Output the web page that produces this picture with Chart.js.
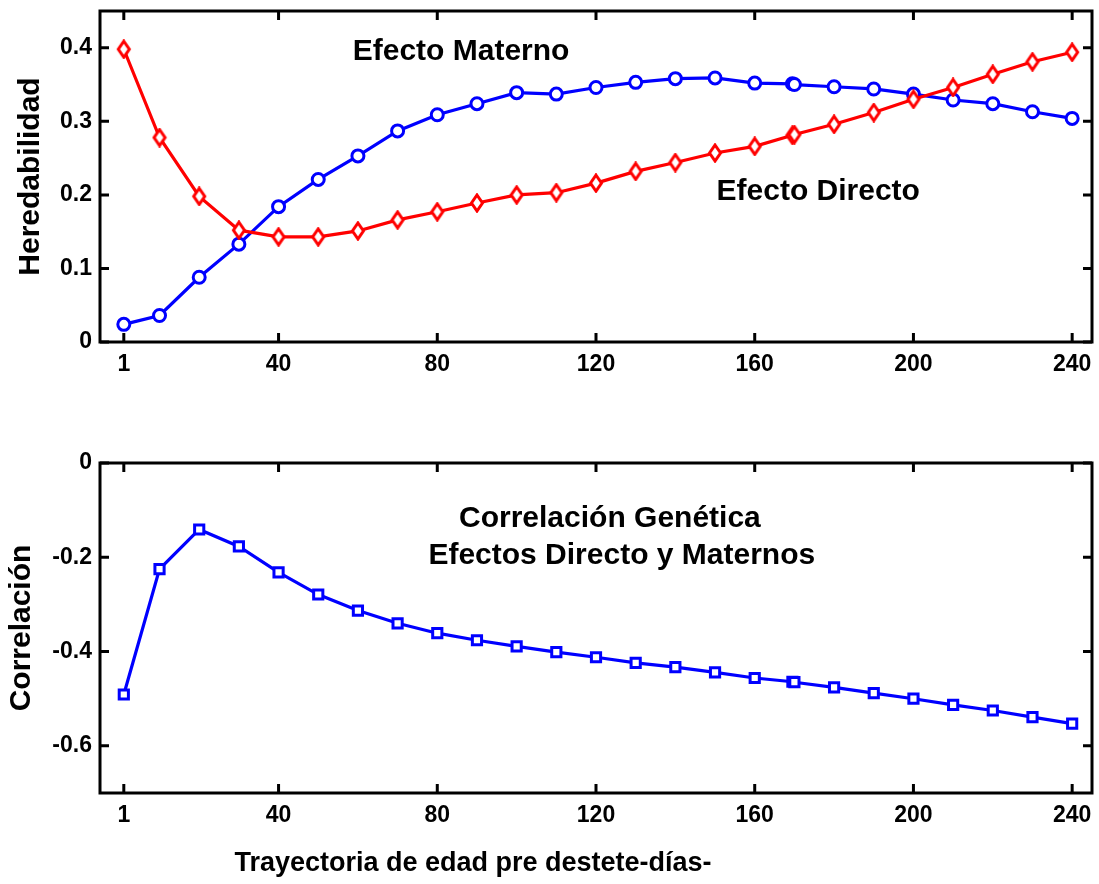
<!DOCTYPE html>
<html lang="es">
<head>
    <meta charset="UTF-8">
    <title>Heredabilidad y Correlación Genética</title>
    <script src="https://cdn.jsdelivr.net/npm/chart.js"></script>
    <style>
        * { margin: 0; padding: 0; box-sizing: border-box; }
        body { background: #fff; width: 1099px; height: 884px; position: relative; overflow: hidden; }
        #topChart { position: absolute; left: 0; top: 0; }
        #bottomChart { position: absolute; left: 0; top: 410px; }
    </style>
</head>
<body>
    <canvas id="topChart" width="1099" height="410"></canvas>
    <canvas id="bottomChart" width="1099" height="474"></canvas>

    <script>
        // edades (días)
        const ages = [1, 10, 20, 30, 40, 50, 60, 70, 80, 90, 100, 110, 120, 130, 140, 150, 160, 169.5, 170, 180, 190, 200, 210, 220, 230, 240];
        const efectoDirecto = [0.398, 0.278, 0.198, 0.152, 0.143, 0.143, 0.151, 0.166, 0.177, 0.189, 0.200, 0.203, 0.216, 0.232, 0.244, 0.257, 0.266, 0.281, 0.282, 0.296, 0.312, 0.330, 0.346, 0.364, 0.381, 0.394];
        const efectoMaterno = [0.024, 0.036, 0.088, 0.133, 0.184, 0.221, 0.253, 0.287, 0.309, 0.324, 0.339, 0.337, 0.346, 0.353, 0.358, 0.359, 0.352, 0.351, 0.350, 0.347, 0.344, 0.337, 0.329, 0.324, 0.313, 0.304];
        const correlacion = [-0.491, -0.225, -0.141, -0.177, -0.232, -0.279, -0.313, -0.340, -0.361, -0.376, -0.389, -0.401, -0.412, -0.424, -0.433, -0.444, -0.456, -0.464, -0.465, -0.476, -0.488, -0.500, -0.513, -0.525, -0.539, -0.553];

        const xTicks = [1, 40, 80, 120, 160, 200, 240];
        const yTicksTop = [0, 0.1, 0.2, 0.3, 0.4];
        const yTicksBottom = [0, -0.2, -0.4, -0.6];

        // text labels placed in data coordinates
        const topNotes = [
            { text: 'Efecto Materno', x: 86, y: 0.395 },
            { text: 'Efecto Directo', x: 176, y: 0.204 }
        ];
        const bottomNotes = [
            { text: 'Correlación Genética', x: 123.5, y: -0.118 },
            { text: 'Efectos Directo y Maternos', x: 126.5, y: -0.197 }
        ];

        const FONT = "'Liberation Sans', Arial, sans-serif";

        const toPoints = (ys) => ages.map((a, i) => ({ x: a, y: ys[i] }));

        // narrow diamond marker like matlab's 'd'
        function diamond(color) {
            const c = document.createElement('canvas');
            c.width = 16; c.height = 20;
            const g = c.getContext('2d');
            g.beginPath();
            g.moveTo(8, 2); g.lineTo(13.5, 10); g.lineTo(8, 18); g.lineTo(2.5, 10);
            g.closePath();
            g.fillStyle = '#fff';
            g.fill();
            g.lineWidth = 3;
            g.strokeStyle = color;
            g.stroke();
            return c;
        }

        // box frame + inward ticks on all four sides
        const framePlugin = {
            id: 'frame',
            beforeDatasetsDraw(chart) {
                const { ctx, chartArea: a, scales } = chart;
                const len = 9;
                ctx.save();
                ctx.strokeStyle = '#000';
                ctx.lineWidth = 3;
                ctx.beginPath();
                scales.x.ticks.forEach(t => {
                    const px = scales.x.getPixelForValue(t.value);
                    ctx.moveTo(px, a.bottom); ctx.lineTo(px, a.bottom - len);
                    ctx.moveTo(px, a.top); ctx.lineTo(px, a.top + len);
                });
                scales.y.ticks.forEach(t => {
                    const py = scales.y.getPixelForValue(t.value);
                    ctx.moveTo(a.left, py); ctx.lineTo(a.left + len, py);
                    ctx.moveTo(a.right, py); ctx.lineTo(a.right - len, py);
                });
                ctx.stroke();
                ctx.strokeRect(a.left, a.top, a.right - a.left, a.bottom - a.top);
                ctx.restore();
            },
            afterDraw(chart, args, opts) {
                const { ctx, scales } = chart;
                ctx.save();
                ctx.fillStyle = '#000';
                ctx.font = 'bold 30px ' + FONT;
                ctx.textAlign = 'center';
                ctx.textBaseline = 'middle';
                (opts.notes || []).forEach(n => {
                    ctx.fillText(n.text, scales.x.getPixelForValue(n.x), scales.y.getPixelForValue(n.y));
                });
                if (opts.xTitle) {
                    ctx.font = 'bold 27px ' + FONT;
                    ctx.fillText(opts.xTitle, 473, opts.xTitleY);
                }
                ctx.restore();
            }
        };

        function xScale(height) {
            return {
                type: 'linear',
                min: -5,
                max: 245,
                afterBuildTicks: (s) => { s.ticks = xTicks.map(v => ({ value: v })); },
                afterFit: (s) => { s.height = height; s.paddingLeft = 0; s.paddingRight = 0; },
                grid: { display: false, drawTicks: false, tickLength: 0 },
                border: { display: false },
                ticks: {
                    color: '#000',
                    padding: 9,
                    maxRotation: 0,
                    autoSkip: false,
                    font: { family: FONT, size: 23, weight: 'bold' }
                }
            };
        }

        function yScale(min, max, tickVals, title, titlePad) {
            return {
                type: 'linear',
                min: min,
                max: max,
                afterBuildTicks: (s) => { s.ticks = tickVals.map(v => ({ value: v })); },
                afterFit: (s) => { s.width = 100; s.paddingTop = 0; s.paddingBottom = 0; },
                grid: { display: false, drawTicks: false, tickLength: 0 },
                border: { display: false },
                ticks: {
                    color: '#000',
                    padding: 8,
                    font: { family: FONT, size: 23, weight: 'bold' },
                    callback: (v) => v === 0 ? '0' : v.toFixed(1)
                },
                title: {
                    display: true,
                    text: title,
                    color: '#000',
                    padding: { top: titlePad, bottom: 0 },
                    font: { family: FONT, size: 30, weight: 'bold' }
                }
            };
        }

        const topCtx = document.getElementById('topChart').getContext('2d');
        new Chart(topCtx, {
            type: 'scatter',
            data: {
                datasets: [{
                    label: 'Efecto Directo',
                    data: toPoints(efectoDirecto),
                    showLine: true,
                    borderColor: '#ff0000',
                    borderWidth: 3.2,
                    pointStyle: diamond('#ff0000'),
                    pointRadius: 8
                }, {
                    label: 'Efecto Materno',
                    data: toPoints(efectoMaterno),
                    showLine: true,
                    borderColor: '#0000ff',
                    borderWidth: 3.2,
                    pointStyle: 'circle',
                    pointRadius: 6,
                    pointBorderWidth: 3,
                    pointBackgroundColor: '#fff',
                    pointBorderColor: '#0000ff'
                }]
            },
            options: {
                responsive: false,
                animation: false,
                layout: { autoPadding: false, padding: { left: 0, right: 7, top: 11, bottom: 0 } },
                plugins: {
                    legend: { display: false },
                    tooltip: { enabled: false },
                    frame: { notes: topNotes }
                },
                scales: {
                    x: xScale(68),
                    y: yScale(0, 0.45, yTicksTop, 'Heredabilidad', 13)
                }
            },
            plugins: [framePlugin]
        });

        const bottomCtx = document.getElementById('bottomChart').getContext('2d');
        new Chart(bottomCtx, {
            type: 'scatter',
            data: {
                datasets: [{
                    label: 'Correlación',
                    data: toPoints(correlacion),
                    showLine: true,
                    borderColor: '#0000ff',
                    borderWidth: 3.2,
                    pointStyle: 'rect',
                    pointRadius: 6.5,
                    pointBorderWidth: 3,
                    pointBackgroundColor: '#fff',
                    pointBorderColor: '#0000ff'
                }]
            },
            options: {
                responsive: false,
                animation: false,
                layout: { autoPadding: false, padding: { left: 0, right: 7, top: 53, bottom: 0 } },
                plugins: {
                    legend: { display: false },
                    tooltip: { enabled: false },
                    frame: { notes: bottomNotes, xTitle: 'Trayectoria de edad pre destete-días-', xTitleY: 454 }
                },
                scales: {
                    x: xScale(91),
                    y: yScale(-0.7, 0, yTicksBottom, 'Correlación', 4)
                }
            },
            plugins: [framePlugin]
        });
    </script>
</body>
</html>
